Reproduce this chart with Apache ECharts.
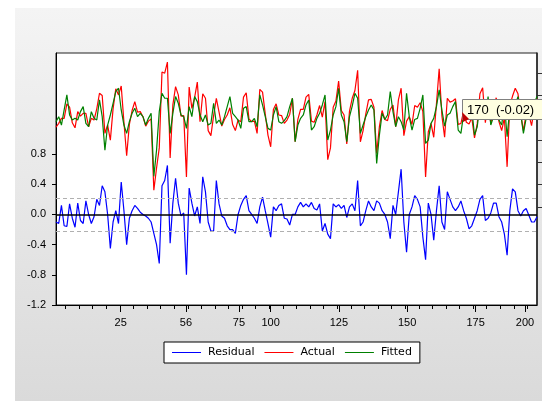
<!DOCTYPE html>
<html><head><meta charset="utf-8">
<script src="https://cdn.jsdelivr.net/npm/echarts@6/dist/echarts.min.js"></script>
<style>html,body{margin:0;padding:0;background:#fff;}#c{width:542px;height:401px;}</style>
</head><body><div id="c"></div>
<script>
// Residual (left axis), Actual & Fitted (right axis), observations 1..178
const residual = [
-0.10,-0.12,0.12,-0.15,-0.16,0.14,-0.05,-0.17,0.15,-0.08,
-0.12,0.18,0.00,-0.12,-0.03,0.20,0.12,0.38,0.30,0.00,
-0.45,-0.10,0.05,-0.12,0.43,0.05,-0.40,-0.05,0.05,0.12,
0.08,0.03,0.00,-0.02,-0.05,-0.10,-0.25,-0.40,-0.65,0.38,
0.45,0.65,-0.38,0.15,0.48,0.15,-0.02,0.02,-0.80,0.35,
0.15,-0.02,0.10,-0.12,0.50,0.30,-0.10,-0.22,-0.22,0.45,
0.14,-0.02,-0.05,-0.15,-0.20,-0.20,-0.25,0.00,0.12,0.20,
0.25,0.05,0.00,-0.05,-0.12,0.10,0.23,0.05,-0.12,-0.30,
0.10,0.05,0.12,0.14,-0.05,-0.06,-0.14,0.00,0.00,0.10,
0.16,0.10,0.14,0.10,0.16,0.08,0.06,0.14,-0.22,-0.12,
-0.26,-0.32,0.14,0.10,0.13,0.08,0.12,-0.04,0.10,0.14,
0.05,0.45,-0.15,-0.10,0.05,0.18,0.10,0.05,0.18,0.15,
0.05,0.00,-0.10,-0.32,0.12,0.00,0.30,0.60,-0.10,-0.50,
0.00,0.10,0.25,0.20,0.10,-0.30,-0.60,0.15,0.00,-0.34,
0.05,0.38,-0.10,-0.20,0.30,0.20,0.10,0.05,0.10,0.18,
0.05,-0.05,-0.19,-0.15,-0.05,0.05,0.20,0.25,-0.08,-0.05,
0.02,0.15,0.15,-0.03,-0.10,-0.26,-0.54,0.05,0.34,0.30,
0.05,-0.02,0.05,0.08,-0.01,-0.10,-0.10,-0.03];

const actual = [
1.43,1.50,1.59,1.59,1.85,1.79,1.51,1.42,1.71,1.63,
1.68,1.68,1.44,1.59,1.56,1.76,2.04,2.00,1.32,1.47,
1.20,1.76,2.12,2.01,2.17,1.52,0.92,1.48,1.73,1.89,
1.70,1.71,1.62,1.45,1.54,1.58,0.30,0.70,1.06,2.42,
2.40,2.60,0.88,1.83,2.16,2.01,1.63,1.64,0.54,2.15,
1.77,1.96,2.24,1.53,2.03,1.95,1.37,1.28,1.64,1.95,
1.70,1.45,1.57,1.65,1.78,1.48,1.37,1.56,1.53,1.97,
2.05,1.58,1.53,1.54,1.32,2.11,2.06,1.67,1.29,1.08,
1.75,1.85,1.65,1.64,1.50,1.56,1.66,1.95,1.17,1.57,
1.75,1.75,1.97,2.02,1.54,1.52,1.65,1.82,1.61,1.89,
0.85,1.06,1.79,1.90,2.26,1.73,1.65,1.13,1.72,1.95,
2.09,2.45,1.17,1.37,1.67,1.92,1.93,1.79,0.96,1.44,
1.73,1.57,1.55,1.75,1.83,1.44,1.92,2.13,1.28,1.54,
1.62,1.48,1.82,1.79,1.87,1.71,0.54,1.35,1.50,1.25,
1.85,2.48,1.64,1.25,1.95,1.88,1.90,1.94,1.48,1.50,
1.72,1.52,1.49,1.60,1.24,1.49,2.03,2.14,1.51,1.93,
1.49,1.77,1.96,1.53,1.37,1.60,0.72,1.82,1.99,2.13,
2.03,1.66,1.37,1.67,1.66,1.46,1.76,1.95];

const fitted = [
1.53,1.62,1.47,1.74,2.01,1.65,1.56,1.59,1.56,1.71,
1.80,1.50,1.44,1.71,1.59,1.56,1.92,1.62,1.02,1.47,
1.65,1.86,2.07,2.13,1.74,1.47,1.32,1.53,1.68,1.77,
1.62,1.68,1.62,1.47,1.59,1.68,0.55,1.02,1.71,2.04,
1.95,1.95,1.32,1.68,1.98,1.86,1.65,1.62,1.41,1.80,
1.62,1.98,1.89,1.65,1.53,1.65,1.47,1.50,1.86,1.50,
1.56,1.47,1.62,1.80,1.98,1.68,1.62,1.56,1.41,1.77,
1.80,1.53,1.53,1.59,1.44,2.01,1.83,1.62,1.41,1.38,
1.65,1.80,1.53,1.50,1.55,1.62,1.80,1.95,1.17,1.47,
1.59,1.65,1.83,1.92,1.38,1.44,1.59,1.68,1.83,2.01,
1.20,1.38,1.65,1.80,2.13,1.65,1.53,1.17,1.62,1.81,
2.04,1.95,1.32,1.47,1.62,1.74,1.83,1.74,0.78,1.29,
1.68,1.57,1.65,2.07,1.71,1.44,1.62,1.53,1.38,2.04,
1.62,1.38,1.57,1.59,1.77,2.01,1.14,1.20,1.50,1.59,
1.80,2.10,1.74,1.45,1.65,1.68,1.80,1.89,1.38,1.32,
1.67,1.57,1.68,1.75,1.29,1.44,1.83,1.89,1.59,1.98,
1.47,1.62,1.81,1.56,1.47,1.86,1.26,1.77,1.65,1.83,
1.98,1.68,1.32,1.59,1.67,1.56,1.86,1.98];

const seriesNames = ['Residual', 'Actual', 'Fitted'];
const xTickObs = [24.8, 48.8, 68.3, 80.0, 105.1, 130.2, 155.4, 173.6];
const xTickLabels = ['25', '56', '75', '100', '125', '150', '175', '200'];
const residualTicks = [-1.2, -0.8, -0.4, 0.0, 0.4, 0.8];
const rightTicks = [0.0, 0.4, 0.8, 1.2, 1.6, 2.0, 2.4];
const seBand = 0.22;
const tipObs = '170', tipValue = '-0.02';

const N = residual.length;
const minorTicks = [];
for (let v = 4.5; v < N; v += 5) minorTicks.push(v);
const toPairs = arr => arr.map((v, i) => [i + 1, v]);
const nearestLabel = v => {
  let best = 0;
  xTickObs.forEach((t, i) => { if (Math.abs(t - v) < Math.abs(xTickObs[best] - v)) best = i; });
  return xTickLabels[best];
};
const axisFont = {fontFamily: 'Liberation Sans, Arial, sans-serif', fontSize: 11, color: '#000'};

const chart = echarts.init(document.getElementById('c'), null, {renderer: 'canvas'});
chart.setOption({
  animation: false,
  backgroundColor: '#fff',
  graphic: [
    {type: 'rect', z: -100, shape: {x: 15, y: 8, width: 527, height: 393},
     style: {fill: {type: 'linear', x: 0, y: 0, x2: 0, y2: 1,
       colorStops: [{offset: 0, color: '#f4f4f4'}, {offset: 1, color: '#dadada'}]}}},
    {type: 'rect', z: 100, shape: {x: 462.5, y: 99.5, width: 80, height: 20},
     style: {fill: '#ffffe1', stroke: '#808080', lineWidth: 1}},
    {type: 'text', z: 101, x: 467, y: 110,
     style: {text: tipObs + '  (' + tipValue + ')', fill: '#000', font: '13px Liberation Sans, Arial, sans-serif', verticalAlign: 'middle'}},
    {type: 'polygon', z: 101, shape: {points: [[462, 112], [469, 119], [463, 122]]}, style: {fill: '#c00000'}}
  ],
  grid: {left: 56, right: 5, top: 53, bottom: 96, show: true, backgroundColor: '#fff',
         borderColor: '#222', borderWidth: 1},
  legend: {
    data: seriesNames, left: 164, top: 342, orient: 'horizontal', icon: 'rect',
    backgroundColor: '#fff', borderColor: '#000', borderWidth: 1, borderRadius: 0,
    padding: [5, 8, 5, 8], itemGap: 10, itemWidth: 29, itemHeight: 1,
    textStyle: {fontFamily: 'DejaVu Sans, sans-serif', fontSize: 11, color: '#000', padding: [0, 0, 0, 2]}
  },
  xAxis: [
    {type: 'value', min: 1, max: N, position: 'bottom',
     axisLine: {show: true, onZero: false, lineStyle: {color: '#000', width: 1}},
     axisTick: {show: true, customValues: xTickObs, length: 7, lineStyle: {color: '#000'}},
     axisLabel: Object.assign({customValues: xTickObs, formatter: v => nearestLabel(v), margin: 12}, axisFont),
     splitLine: {show: false}},
    {type: 'value', min: 1, max: N, position: 'bottom',
     axisLine: {show: false, onZero: false},
     axisTick: {show: true, customValues: minorTicks, length: 4, lineStyle: {color: '#000'}},
     axisLabel: {show: false}, splitLine: {show: false}}
  ],
  yAxis: [
    {type: 'value', position: 'left', min: -1.2, max: 2.14,
     axisLine: {show: true, onZero: false, lineStyle: {color: '#000'}},
     axisTick: {show: true, customValues: residualTicks, length: 4, lineStyle: {color: '#000'}},
     axisLabel: Object.assign({customValues: residualTicks, formatter: v => v.toFixed(1), margin: 10}, axisFont),
     splitLine: {show: false}},
    {type: 'value', position: 'right', min: -1.758, max: 2.762,
     axisLine: {show: true, onZero: false, lineStyle: {color: '#222', width: 1.5}},
     axisTick: {show: true, customValues: rightTicks, length: 5, lineStyle: {color: '#333'}},
     axisLabel: {show: false}, splitLine: {show: false}}
  ],
  series: [
    {name: seriesNames[0], type: 'line', xAxisIndex: 0, yAxisIndex: 0, data: toPairs(residual),
     symbol: 'none', lineStyle: {color: '#0000ff', width: 1.2}, itemStyle: {color: '#0000ff'},
     markLine: {silent: true, symbol: 'none', label: {show: false}, animation: false,
       data: [
         {yAxis: 0, lineStyle: {color: '#000', width: 1.5, type: 'solid'}},
         {yAxis: seBand, lineStyle: {color: '#b0b0b0', width: 1, type: [4, 3]}},
         {yAxis: -seBand, lineStyle: {color: '#b0b0b0', width: 1, type: [4, 3]}}
       ]}},
    {name: seriesNames[1], type: 'line', xAxisIndex: 0, yAxisIndex: 1, data: toPairs(actual),
     symbol: 'none', lineStyle: {color: '#ff0000', width: 1.2}, itemStyle: {color: '#ff0000'}},
    {name: seriesNames[2], type: 'line', xAxisIndex: 0, yAxisIndex: 1, data: toPairs(fitted),
     symbol: 'none', lineStyle: {color: '#008000', width: 1.2}, itemStyle: {color: '#008000'}}
  ]
});
</script></body></html>
